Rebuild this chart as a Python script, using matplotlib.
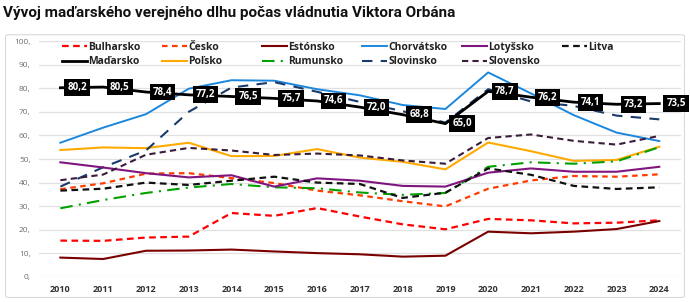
import matplotlib
matplotlib.use('Agg')
import matplotlib.pyplot as plt
from matplotlib.patches import FancyBboxPatch

# Public debt (% of GDP)
years = list(range(2010, 2025))

hungary = [80.2, 80.5, 78.4, 77.2, 76.5, 75.7, 74.6, 72.0, 68.8, 65.0, 78.7, 76.2, 74.1, 73.2, 73.5]
bulgaria = [15.4, 15.3, 16.7, 17.1, 27.1, 25.9, 29.2, 25.6, 22.3, 20.2, 24.6, 24.0, 22.7, 23.0, 24.0]
czechia = [37.2, 39.7, 43.8, 44.0, 41.9, 39.8, 36.6, 34.6, 32.1, 29.9, 37.4, 40.9, 42.8, 42.5, 43.5]
estonia = [8.2, 7.6, 11.1, 11.2, 11.6, 10.8, 10.1, 9.6, 8.6, 9.0, 19.2, 18.5, 19.2, 20.3, 23.7]
croatia = [56.9, 63.3, 69.0, 79.8, 83.4, 83.2, 79.6, 77.0, 72.9, 71.2, 86.7, 77.8, 68.6, 61.2, 57.6]
latvia = [48.6, 46.4, 44.0, 42.2, 43.1, 38.3, 41.8, 40.8, 38.6, 38.3, 44.2, 46.0, 44.6, 44.6, 46.7]
lithuania = [36.6, 37.4, 40.0, 39.0, 40.8, 42.5, 40.0, 39.4, 33.5, 35.7, 46.0, 43.3, 38.6, 37.3, 38.0]
poland = [53.8, 54.9, 54.6, 56.9, 51.2, 51.3, 54.2, 50.6, 48.8, 45.6, 57.0, 53.3, 49.2, 49.6, 55.2]
romania = [29.1, 32.6, 35.6, 37.9, 39.4, 38.0, 37.6, 35.8, 34.8, 35.6, 46.7, 48.6, 48.0, 49.0, 55.0]
slovenia = [38.3, 46.5, 53.6, 70.0, 80.3, 82.6, 78.5, 74.2, 70.3, 65.4, 79.6, 74.4, 72.5, 68.4, 66.8]
slovakia = [41.0, 43.4, 51.8, 54.7, 53.6, 51.7, 52.3, 51.5, 49.4, 48.0, 58.9, 60.4, 57.7, 56.1, 59.8]

yticks = [0, 10, 20, 30, 40, 50, 60, 70, 80, 90, 100]
title = "Vývoj maďarského verejného dlhu počas vládnutia Viktora Orbána"

plt.rcParams['font.family'] = ['Open Sans', 'DejaVu Sans']
fig = plt.figure(figsize=(6.9, 3.02), dpi=100)
W, H = 690.0, 302.0

# light frame around the chart
frame = FancyBboxPatch((0.008, 0.015), 0.984, 0.87, boxstyle="round,pad=0,rounding_size=0.005",
                       transform=fig.transFigure, facecolor='none', edgecolor='#d9d9d9',
                       linewidth=0.8, zorder=-1)
fig.patches.append(frame)

fig.text(0.005, 0.98, title, ha='left', va='top', fontsize=11, fontweight='bold',
         color='#111111', family=['Roboto', 'DejaVu Sans'])

ax = fig.add_axes([0.0565, 0.083, 0.930, 0.781])
ax.set_facecolor('none')

# legend is laid out row-wise in the reference: 6 columns, 2 rows
series = [
    ("Bulharsko", bulgaria, dict(color='#ff0000', lw=1.6, ls=(0, (3, 2)))),
    ("Maďarsko", hungary, dict(color='#000000', lw=2.0, ls='-')),
    ("Česko", czechia, dict(color='#ff3c00', lw=1.6, ls=(0, (2.5, 2)))),
    ("Poľsko", poland, dict(color='#ffaa00', lw=1.5, ls='-')),
    ("Estónsko", estonia, dict(color='#7a0000', lw=1.5, ls='-')),
    ("Rumunsko", romania, dict(color='#00a000', lw=1.5, ls=(0, (6, 3, 1, 3)))),
    ("Chorvátsko", croatia, dict(color='#1b87dc', lw=1.4, ls='-')),
    ("Slovinsko", slovenia, dict(color='#1a3a6b', lw=1.5, ls=(0, (5, 4)))),
    ("Lotyšsko", latvia, dict(color='#80157f', lw=1.5, ls='-')),
    ("Slovensko", slovakia, dict(color='#3b1c3b', lw=1.5, ls=(0, (3, 2)))),
    ("Litva", lithuania, dict(color='#111111', lw=1.6, ls=(0, (3, 2)))),
]

lines = []
for name, vals, st in series:
    z = 5 if name == "Maďarsko" else 3
    ln, = ax.plot(years, vals, label=name, zorder=z, **st)
    lines.append(ln)

# Hungarian value labels in black boxes
for x, v in zip(years, hungary):
    ax.annotate(f"{v:.1f}".replace('.', ','), (x, v), xytext=(12, 0),
                textcoords='offset points', ha='center', va='center',
                fontsize=7, fontweight='bold', color='white', zorder=6,
                annotation_clip=False,
                bbox=dict(boxstyle='square,pad=0.3', facecolor='black', edgecolor='none'))

ax.set_xlim(2009.5, 2024.5)
ax.set_ylim(0, 100)
ax.set_yticks(yticks)
ax.set_yticklabels([f"{t}," for t in yticks])
ax.set_xticks(years)
ax.set_xticklabels([str(y) for y in years])
ax.grid(axis='y', color='#e0e0e0', linewidth=0.9)
ax.set_axisbelow(True)
for s in ax.spines.values():
    s.set_visible(False)
ax.tick_params(axis='y', length=0, labelsize=6, labelcolor='#707070', pad=6)
ax.tick_params(axis='x', length=0, labelsize=6.5, labelcolor='#333333', pad=6)
for lab in ax.get_xticklabels():
    lab.set_fontweight('bold')

# fixed-pitch legend columns (100 px apart), one small legend per column
for i in range(6):
    hs = lines[2 * i:2 * i + 2]
    leg = fig.legend(hs, [h.get_label() for h in hs], loc='upper left',
                     bbox_to_anchor=((59 + 100 * i) / W, 1 - 39 / H), frameon=False,
                     fontsize=7.5, handlelength=2.4, handletextpad=0.1,
                     labelspacing=0.3, borderaxespad=0, borderpad=0.3)
    for t in leg.get_texts():
        t.set_fontweight('bold')
        t.set_color('#222222')

fig.savefig('out.png', dpi=100)
